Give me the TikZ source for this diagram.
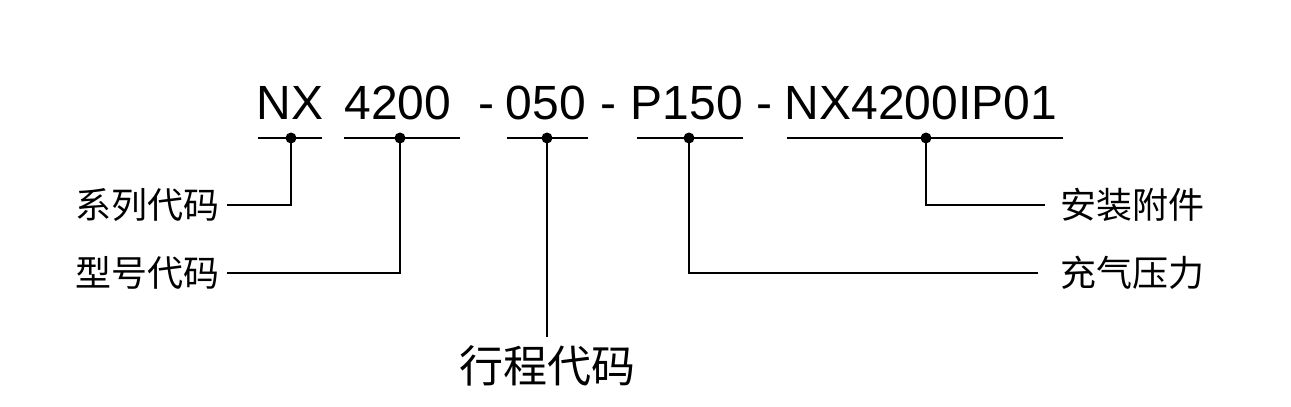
\documentclass[tikz,border=0pt]{standalone}
\usepackage{fontspec}
\setmainfont{Liberation Sans}
\newfontfamily\cjk{Noto Sans CJK SC}
\usetikzlibrary{positioning}

\begin{document}
\begin{tikzpicture}[
  x=1pt,y=-1pt,
  code/.style={font=\fontsize{48}{54}\selectfont,inner sep=0pt,anchor=base},
  side/.style={font=\cjk\fontsize{36}{42}\selectfont,inner xsep=7pt,inner ysep=0pt},
  leader/.style={line width=1.9pt},
  dot/.style={circle,fill=black,inner sep=0pt,minimum size=11pt}
]
\useasboundingbox (0,0) rectangle (1291,407);

% model string
\node[code] (sSeries) at (290,119) {NX};
\node[code] (sModel) at (398,119) {4200};
\node[code] (h1) at (486,119) {-};
\node[code] (sStroke) at (546,119) {050};
\node[code] (h2) at (608,119) {-};
\node[code] (sPress) at (687,119) {P150};
\node[code] (h3) at (764,119) {-};
\node[code] (sAcc) at (921,119) {NX4200IP01};

% underlines with tap dots
\foreach \a/\b/\m/\n in {258/322/291/dSeries,344/460/400/dModel,
  507/588/547/dStroke,637/743/689/dPress,787/1063/926/dAcc}{
  \draw[leader] (\a,138) -- (\b,138);
  \node[dot] (\n) at (\m,138) {};
}

% labels
\node[side,anchor=east] (lSeries) at (227,205) {系列代码};
\node[side,anchor=east] (lModel) at (227,273) {型号代码};
\node[side,anchor=west,inner xsep=15pt] (lAcc) at (1045,205) {安装附件};
\node[side,anchor=west,inner xsep=22pt] (lPress) at (1038,273) {充气压力};
\node[font=\cjk\fontsize{44}{50}\selectfont,inner xsep=0pt,inner ysep=8pt,anchor=north]
  (lStroke) at (547,337) {行程代码};

% leaders
\draw[leader] (dSeries.center) |- (lSeries.east);
\draw[leader] (dModel.center) |- (lModel.east);
\draw[leader] (dStroke.center) -- (lStroke.north);
\draw[leader] (dPress.center) |- (lPress.west);
\draw[leader] (dAcc.center) |- (lAcc.west);

\end{tikzpicture}
\end{document}
